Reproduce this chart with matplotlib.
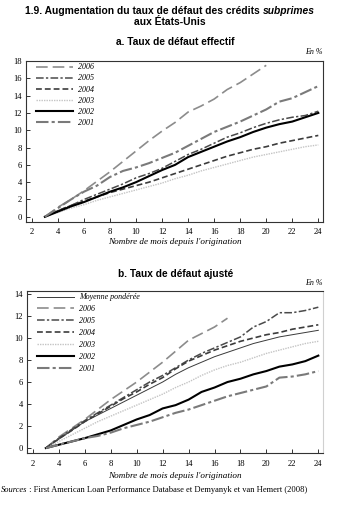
import matplotlib
matplotlib.use("Agg")
import matplotlib.pyplot as plt

# ---------------- data ----------------
# Panel a: actual default rate (%)
months_a = list(range(3, 25))
a_2006 = [0, 1.1, 2.0, 3.0, 4.1, 5.2, 6.4, 7.6, 8.8, 9.9, 10.9, 12.1, 12.8, 13.6, 14.7, 15.5, 16.5, 17.5]
a_2005 = [0, 0.7, 1.3, 2.0, 2.6, 3.2, 3.8, 4.5, 5.0, 5.6, 6.4, 7.2, 7.8, 8.5, 9.2, 9.7, 10.3, 10.8, 11.2, 11.5, 11.7, 12.2]
a_2004 = [0, 0.7, 1.3, 1.8, 2.3, 2.8, 3.2, 3.6, 4.0, 4.5, 5.0, 5.5, 6.0, 6.5, 7.0, 7.4, 7.8, 8.1, 8.5, 8.8, 9.1, 9.4]
a_2003 = [0, 0.5, 1.0, 1.4, 1.9, 2.3, 2.7, 3.1, 3.5, 3.9, 4.4, 4.8, 5.3, 5.7, 6.1, 6.5, 6.9, 7.2, 7.5, 7.8, 8.1, 8.3]
a_2002 = [0, 0.6, 1.2, 1.7, 2.3, 2.9, 3.4, 4.0, 4.7, 5.4, 6.0, 6.9, 7.5, 8.1, 8.7, 9.2, 9.8, 10.3, 10.7, 11.0, 11.5, 12.0]
a_2001 = [0, 1.0, 2.0, 2.9, 3.6, 4.6, 5.3, 5.7, 6.2, 6.8, 7.4, 8.2, 9.0, 9.8, 10.4, 11.0, 11.7, 12.4, 13.3, 13.7, 14.4, 15.1]

# Panel b: adjusted default rate (%)
months_b = list(range(3, 25))
b_moy = [0, 0.8, 1.6, 2.4, 3.0, 3.6, 4.2, 4.8, 5.4, 6.0, 6.7, 7.3, 7.8, 8.3, 8.7, 9.1, 9.5, 9.8, 10.1, 10.3, 10.5, 10.7]
b_2006 = [0, 1.0, 1.8, 2.6, 3.5, 4.4, 5.2, 6.0, 6.9, 7.8, 8.8, 9.8, 10.4, 11.0, 11.8]
b_2005 = [0, 0.9, 1.7, 2.5, 3.2, 3.9, 4.6, 5.3, 6.0, 6.6, 7.3, 8.0, 8.6, 9.1, 9.6, 10.1, 11.0, 11.5, 12.3, 12.3, 12.5, 12.8]
b_2004 = [0, 0.85, 1.6, 2.4, 3.1, 3.8, 4.5, 5.1, 5.8, 6.4, 7.2, 7.9, 8.4, 8.9, 9.3, 9.7, 10.0, 10.3, 10.5, 10.8, 11.0, 11.2]
b_2003 = [0, 0.6, 1.2, 1.8, 2.4, 2.9, 3.4, 3.9, 4.4, 4.9, 5.5, 6.0, 6.6, 7.1, 7.5, 7.8, 8.2, 8.6, 8.9, 9.2, 9.5, 9.7]
b_2002 = [0, 0.3, 0.6, 0.9, 1.25, 1.6, 2.1, 2.6, 3.0, 3.6, 3.9, 4.4, 5.1, 5.5, 6.0, 6.3, 6.7, 7.0, 7.4, 7.6, 7.9, 8.4]
b_2001 = [0, 0.3, 0.6, 0.9, 1.1, 1.4, 1.8, 2.1, 2.4, 2.8, 3.2, 3.5, 3.9, 4.3, 4.7, 5.0, 5.3, 5.6, 6.4, 6.5, 6.7, 7.0]

x_ticks = [2, 4, 6, 8, 10, 12, 14, 16, 18, 20, 22, 24]
y_ticks_a = [0, 2, 4, 6, 8, 10, 12, 14, 16, 18]
y_ticks_b = [0, 2, 4, 6, 8, 10, 12, 14]

title_1 = "1.9. Augmentation du taux de défaut des crédits "
title_1_it = "subprimes"
title_2 = "aux États-Unis"
sub_a = "a. Taux de défaut effectif"
sub_b = "b. Taux de défaut ajusté"
unit = "En %"
xlabel = "Nombre de mois depuis l'origination"
source_it = "Sources"
source = " : First American Loan Performance Database et Demyanyk et van Hemert (2008)"

# ---------------- styles ----------------
styles = {
    "moy":  dict(color="#3a3a3a", lw=0.7, ls="-"),
    "2006": dict(color="#8c8c8c", lw=1.2, ls=(0, (7, 3))),
    "2005": dict(color="#4a4a4a", lw=1.1, ls=(0, (5, 1.5, 1.5, 1.5))),
    "2004": dict(color="#3c3c3c", lw=1.2, ls=(0, (3.5, 1.8))),
    "2003": dict(color="#c4c4c4", lw=1.0, ls=(0, (1, 0.8))),
    "2002": dict(color="#000000", lw=1.5, ls="-"),
    "2001": dict(color="#7a7a7a", lw=1.5, ls=(0, (6, 1.5, 1.5, 1.5))),
}

serif = "Liberation Serif"
sans = "Liberation Sans"

fig = plt.figure(figsize=(3.47, 5.12), dpi=100)
renderer = fig.canvas.get_renderer()


def text_pair(x_center, y, first, second, kw1, kw2):
    """Draw two text pieces side by side, centred as a whole on x_center."""
    t1 = fig.text(0, y, first, ha="left", va="top", **kw1)
    t2 = fig.text(0, y, second, ha="left", va="top", **kw2)
    w1 = t1.get_window_extent(renderer).width / fig.bbox.width
    w2 = t2.get_window_extent(renderer).width / fig.bbox.width
    x0 = x_center - (w1 + w2) / 2 if x_center is not None else 0.002
    t1.set_x(x0)
    t2.set_x(x0 + w1)


# titles
kw_t = dict(fontsize=7.4, fontweight="bold", family=sans)
text_pair(0.49, 0.988, title_1, title_1_it, kw_t, dict(kw_t, style="italic"))
fig.text(0.49, 0.967, title_2, ha="center", va="top", **kw_t)


def setup(ax, ylim, yticks, pad):
    ax.set_xlim(1.55, 24.36)
    ax.set_ylim(*ylim)
    ax.set_xticks(x_ticks)
    ax.set_yticks(yticks)
    ax.tick_params(direction="in", length=3, width=0.7, labelsize=6.2, pad=3, color="#333333")
    ax.tick_params(axis="x", pad=pad)
    for lab in ax.get_xticklabels() + ax.get_yticklabels():
        lab.set_family(serif)
    for s in ax.spines.values():
        s.set_linewidth(0.8)
        s.set_color("#333333")


leg_kw = dict(loc="upper left", bbox_to_anchor=(0.035, 0.985), frameon=False,
              prop=dict(family=serif, style="italic", size=5.8), handlelength=4.6,
              handletextpad=0.6, labelspacing=0.38, borderaxespad=0, borderpad=0)

# ---------- panel a ----------
ax1 = fig.add_axes([0.0749, 0.5664, 0.8559, 0.3145])
series_a = [("2006", months_a[:len(a_2006)], a_2006), ("2005", months_a, a_2005),
            ("2004", months_a, a_2004), ("2003", months_a, a_2003),
            ("2002", months_a, a_2002), ("2001", months_a, a_2001)]
for name, xs, ys in series_a:
    ax1.plot(xs, ys, label=name, **styles[name])
setup(ax1, (-0.6, 18.0), y_ticks_a, 4.5)
ax1.set_xlabel(xlabel, fontsize=6.6, family=serif, style="italic", labelpad=1.5)
ax1.legend(**leg_kw)
fig.text(0.505, 0.917, sub_a, ha="center", va="center", fontsize=7.3, fontweight="bold", family=sans)
fig.text(0.931, 0.899, unit, ha="right", va="center", fontsize=5.8, style="italic", family=serif)

# ---------- panel b ----------
ax2 = fig.add_axes([0.0778, 0.1152, 0.853, 0.3164])
series_b = [("moy", "Moyenne pondérée", months_b, b_moy),
            ("2006", "2006", months_b[:len(b_2006)], b_2006),
            ("2005", "2005", months_b, b_2005), ("2004", "2004", months_b, b_2004),
            ("2003", "2003", months_b, b_2003), ("2002", "2002", months_b, b_2002),
            ("2001", "2001", months_b, b_2001)]
for key, lab, xs, ys in series_b:
    ax2.plot(xs, ys, label=lab, **styles[key])
setup(ax2, (-0.45, 14.27), y_ticks_b, 5)
ax2.spines["right"].set_color("#d0d0d0")
ax2.set_xlabel(xlabel, fontsize=6.6, family=serif, style="italic", labelpad=3)
ax2.legend(**dict(leg_kw, labelspacing=0.48))
fig.text(0.505, 0.465, sub_b, ha="center", va="center", fontsize=7.3, fontweight="bold", family=sans)
fig.text(0.931, 0.447, unit, ha="right", va="center", fontsize=5.8, style="italic", family=serif)

# source
kw_s = dict(fontsize=6.1, family=serif)
text_pair(None, 0.05, source_it, source, dict(kw_s, style="italic"), kw_s)

fig.savefig("out.png", dpi=100)
